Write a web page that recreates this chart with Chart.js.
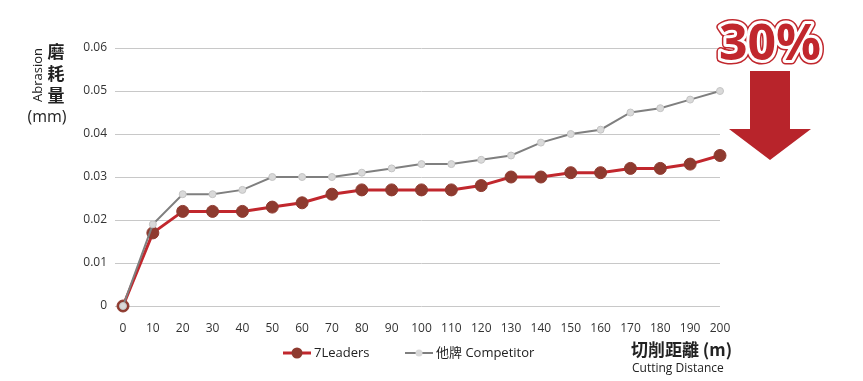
<!DOCTYPE html>
<html>
<head>
<meta charset="utf-8">
<script src="https://cdn.jsdelivr.net/npm/chart.js@4/dist/chart.umd.min.js"></script>
<style>
  html, body { margin: 0; padding: 0; background: #fff; }
  #wrap { width: 863px; height: 381px; }
</style>
</head>
<body>
<div id="wrap"><canvas id="abrasionChart" width="863" height="381"></canvas></div>
<script>
// distances (m)
var distances = [0, 10, 20, 30, 40, 50, 60, 70, 80, 90, 100, 110, 120, 130, 140, 150, 160, 170, 180, 190, 200];
// abrasion (mm)
var leadersWear = [0, 0.017, 0.022, 0.022, 0.022, 0.023, 0.024, 0.026, 0.027, 0.027, 0.027, 0.027, 0.028, 0.030, 0.030, 0.031, 0.031, 0.032, 0.032, 0.033, 0.035];
var competitorWear = [0, 0.019, 0.026, 0.026, 0.027, 0.030, 0.030, 0.030, 0.031, 0.032, 0.033, 0.033, 0.034, 0.035, 0.038, 0.040, 0.041, 0.045, 0.046, 0.048, 0.050];
var yTicks = [0, 0.01, 0.02, 0.03, 0.04, 0.05, 0.06];
var seriesNames = ['7Leaders', '他牌 Competitor'];

var RED = '#c1272d';
var FONT = '"Open Sans", "Noto Sans", "Noto Sans CJK TC", sans-serif';

function toPoints(vals) {
    return distances.map(function(d, i) { return { x: d, y: vals[i] }; });
}

// extra drawing: y title, x title, legend, 30% badge
var decorations = {
    id: 'decorations',
    afterDraw: function(chart) {
        var c = chart.ctx;
        var area = chart.chartArea;
        c.save();

        // y axis title
        c.fillStyle = '#222';
        c.textAlign = 'center';
        c.textBaseline = 'middle';
        c.save();
        c.translate(38, 75);
        c.rotate(-Math.PI / 2);
        c.font = '13px ' + FONT;
        c.fillText('Abrasion', 0, 0);
        c.restore();
        c.font = 'bold 17px "Noto Sans CJK TC", sans-serif';
        ['磨', '耗', '量'].forEach(function(ch, i) {
            c.fillText(ch, 56, 52 + i * 22);
        });
        c.font = '16px ' + FONT;
        c.fillText('(mm)', 47, 117);

        // x axis title
        c.textAlign = 'left';
        c.font = 'bold 17px "Noto Sans CJK TC", sans-serif';
        c.fillText('切削距離 (m)', 631, 350);
        c.font = '12px ' + FONT;
        c.fillText('Cutting Distance', 632, 369);

        // legend, in the order of seriesNames
        var xs = [283, 405];
        var ly = 353;
        seriesNames.forEach(function(name, i) {
            var ds = chart.data.datasets.find(function(d) { return d.label === name; });
            var x0 = xs[i];
            c.strokeStyle = ds.borderColor;
            c.lineWidth = ds.borderWidth;
            c.beginPath();
            c.moveTo(x0, ly);
            c.lineTo(x0 + 28, ly);
            c.stroke();
            c.beginPath();
            c.arc(x0 + 14, ly, i === 0 ? 5.5 : 3.5, 0, Math.PI * 2);
            c.fillStyle = ds.pointBackgroundColor;
            c.fill();
            c.fillStyle = '#222';
            c.font = '13px ' + FONT;
            c.textAlign = 'left';
            c.fillText(ds.label, x0 + 31, ly);
        });

        // 30% badge
        var bx = area.right + 50;
        c.font = 'bold 50px ' + FONT;
        c.textAlign = 'center';
        c.textBaseline = 'alphabetic';
        c.lineJoin = 'round';
        c.strokeStyle = RED;
        c.lineWidth = 9;
        c.strokeText('30%', bx, 60);
        c.strokeStyle = '#fff';
        c.lineWidth = 6;
        c.strokeText('30%', bx, 60);
        c.fillStyle = RED;
        c.fillText('30%', bx, 60);

        // down arrow
        c.fillStyle = '#b8242b';
        c.beginPath();
        c.moveTo(bx - 20, 71);
        c.lineTo(bx + 20, 71);
        c.lineTo(bx + 20, 129);
        c.lineTo(bx + 41, 129);
        c.lineTo(bx, 160);
        c.lineTo(bx - 41, 129);
        c.lineTo(bx - 20, 129);
        c.closePath();
        c.fill();

        c.restore();
    }
};

var ctx = document.getElementById('abrasionChart').getContext('2d');
var abrasionChart = new Chart(ctx, {
    type: 'line',
    data: {
        datasets: [{
            label: seriesNames[1],
            data: toPoints(competitorWear),
            borderColor: '#7f7f7f',
            borderWidth: 2,
            pointRadius: 3.5,
            pointBackgroundColor: '#d9d9d9',
            pointBorderColor: '#c4c4c4',
            pointBorderWidth: 1,
            clip: false,
            tension: 0
        }, {
            label: seriesNames[0],
            data: toPoints(leadersWear),
            borderColor: RED,
            borderWidth: 3,
            pointRadius: 6,
            pointBackgroundColor: '#8e3a2f',
            pointBorderColor: '#8e3a2f',
            pointBorderWidth: 1,
            clip: false,
            tension: 0
        }]
    },
    options: {
        responsive: false,
        animation: false,
        layout: { padding: { top: 48, right: 143, left: 0, bottom: 0 } },
        plugins: {
            legend: { display: false },
            tooltip: { enabled: false }
        },
        scales: {
            x: {
                type: 'linear',
                min: 0,
                max: 200,
                afterBuildTicks: function(scale) {
                    scale.ticks = distances.map(function(d) { return { value: d }; });
                },
                grid: { display: false },
                border: { display: false },
                ticks: {
                    color: '#333',
                    font: { size: 12, family: FONT },
                    padding: 7,
                    maxRotation: 0,
                    autoSkip: false
                },
                afterFit: function(scale) { scale.height = 75; }
            },
            y: {
                min: 0,
                max: 0.06,
                afterBuildTicks: function(scale) {
                    scale.ticks = yTicks.map(function(v) { return { value: v }; });
                },
                grid: { color: '#c8c8c8', lineWidth: 1, tickLength: 8 },
                border: { display: false },
                ticks: {
                    color: '#333',
                    font: { size: 12, family: FONT },
                    padding: 8,
                    callback: function(v) { return String(parseFloat(v.toFixed(2))); }
                },
                afterFit: function(scale) { scale.width = 123; }
            }
        }
    },
    plugins: [decorations]
});
</script>
</body>
</html>
